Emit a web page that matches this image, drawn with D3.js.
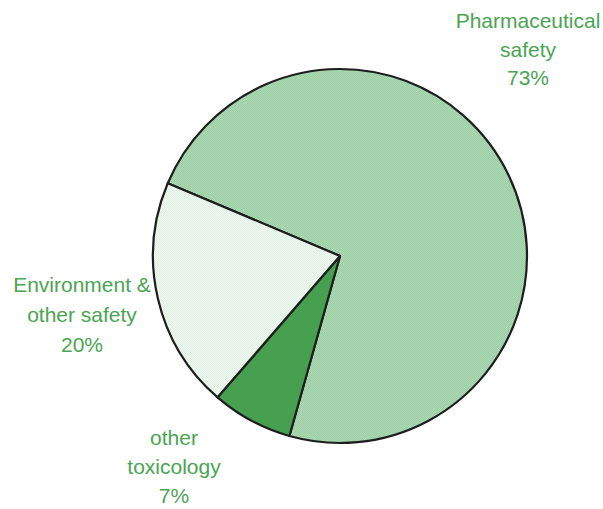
<!DOCTYPE html>
<html>
<head>
<meta charset="utf-8">
<script src="https://cdn.jsdelivr.net/npm/d3@7"></script>
<style>
  html, body { margin: 0; padding: 0; background: #fff; }
  svg { display: block; }
  text { font-family: "Liberation Sans", Arial, sans-serif; }
</style>
</head>
<body>
<svg id="chart" width="603" height="509"></svg>
<script>
// Share of studies by field
const categories = ["Pharmaceutical safety", "other toxicology", "Environment & other safety"];
const shares = [73, 7, 20];
const labelLines = [
  ["Pharmaceutical", "safety", "73%"],
  ["other", "toxicology", "7%"],
  ["Environment &", "other safety", "20%"]
];

const svg = d3.select("#chart");
const cx = 340, cy = 256, radius = 187;

// Fine dotted fills for the slices
const defs = svg.append("defs");
function checker(id, a, b) {
  const p = defs.append("pattern")
    .attr("id", id).attr("width", 2).attr("height", 2)
    .attr("patternUnits", "userSpaceOnUse");
  p.append("rect").attr("width", 2).attr("height", 2).attr("fill", a);
  p.append("rect").attr("width", 1).attr("height", 1).attr("fill", b);
  p.append("rect").attr("x", 1).attr("y", 1).attr("width", 1).attr("height", 1).attr("fill", b);
}
checker("pharmaFill", "#acd8b4", "#9bcea4");
checker("envFill", "#eef7f0", "#e0f0e3");

const fills = ["url(#pharmaFill)", "#47a04f", "url(#envFill)"];

const startAngle = -67.1 * Math.PI / 180;
const pie = d3.pie().sort(null)
  .startAngle(startAngle)
  .endAngle(startAngle + 2 * Math.PI)
  .value(d => d);

const arc = d3.arc().innerRadius(0).outerRadius(radius);

const g = svg.append("g").attr("transform", `translate(${cx},${cy})`);

g.selectAll("path.slice")
  .data(pie(shares))
  .join("path")
  .attr("class", "slice")
  .attr("d", arc)
  .attr("fill", (d, i) => fills[i])
  .attr("stroke", "#1e1e1e")
  .attr("stroke-width", 2.2)
  .attr("stroke-linejoin", "round");

// Labels placed around the pie
const labelPos = [
  { x: 528, y: 28 },
  { x: 174, y: 445 },
  { x: 82, y: 292 }
];
const lineGap = [28.5, 29, 30];

labelLines.forEach((lines, i) => {
  const t = svg.append("text")
    .attr("text-anchor", "middle")
    .attr("fill", "#4aa552")
    .attr("font-size", 21);
  lines.forEach((ln, k) => {
    t.append("tspan")
      .attr("x", labelPos[i].x)
      .attr("y", labelPos[i].y + k * lineGap[i])
      .text(ln);
  });
});
</script>
</body>
</html>
